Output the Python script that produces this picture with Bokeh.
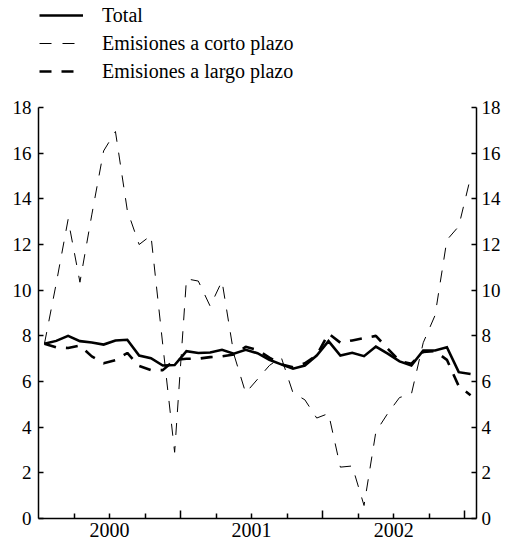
from bokeh.plotting import figure
from bokeh.models import Range1d, LinearAxis, FixedTicker, Legend, LegendItem, ColumnDataSource
from bokeh.embed import file_html
from bokeh.resources import INLINE

# ---- data (monthly, Jan 2000 .. Jan 2003) ----
periodos = [f"{2000 + i // 12}-{i % 12 + 1:02d}" for i in range(37)]
total = [7.65, 7.78, 8.0, 7.77, 7.71, 7.62, 7.8, 7.83, 7.14, 7.02, 6.7, 6.72,
         7.33, 7.25, 7.27, 7.39, 7.22, 7.39, 7.24, 6.95, 6.75, 6.56, 6.7, 7.14,
         7.77, 7.14, 7.26, 7.11, 7.53, 7.22, 6.88, 6.7, 7.36, 7.36, 7.5, 6.41,
         6.33]
corto = [7.65, 10.3, 13.1, 10.35, 13.3, 16.1, 16.95, 13.5, 12.0, 12.4, 7.6, 2.9,
         10.5, 10.4, 9.3, 10.4, 7.2, 5.5, 6.1, 6.7, 7.07, 5.5, 5.2, 4.4,
         4.6, 2.25, 2.3, 0.57, 3.8, 4.6, 5.3, 5.45, 7.7, 8.9, 12.2, 12.8,
         14.95]
largo = [7.65, 7.5, 7.47, 7.58, 7.1, 6.8, 6.93, 7.25, 6.68, 6.5, 6.5, 6.95,
         7.0, 7.0, 7.07, 7.1, 7.18, 7.52, 7.38, 7.05, 6.75, 6.62, 6.8, 7.15,
         8.1, 7.7, 7.8, 7.9, 8.0, 7.44, 6.9, 6.78, 7.3, 7.33, 6.95, 5.8,
         5.4]
anios = ["2000", "2001", "2002"]
nombres = ["Total", "Emisiones a corto plazo", "Emisiones a largo plazo"]
y_ticks = [0, 2, 4, 6, 8, 10, 12, 14, 16, 18]

# month index -> x (centre of month)
x = [i + 0.5 for i in range(len(periodos))]
src = ColumnDataSource(dict(x=x, total=total, corto=corto, largo=largo))

FONT = "Liberation Serif"
Y_END = 22.69

p = figure(width=506, height=539, output_backend="svg", toolbar_location=None,
           x_range=Range1d(0, len(periodos)), y_range=Range1d(0, Y_END),
           min_border_left=38, min_border_right=30, min_border_top=0,
           min_border_bottom=0)
p.outline_line_color = None
p.xgrid.visible = False
p.ygrid.visible = False
p.background_fill_color = "white"
p.border_fill_color = "white"

r_corto = p.line("x", "corto", source=src, line_color="black", line_width=1,
                 line_dash="12 11")
r_largo = p.line("x", "largo", source=src, line_color="black", line_width=2.6,
                 line_dash="12 10")
r_total = p.line("x", "total", source=src, line_color="black", line_width=2.6,
                 line_join="miter")

# bottom axis: quarter ticks, longer ticks at year boundaries, labels mid-year
xa = p.xaxis[0]
quarter = [q for q in range(3, len(periodos), 3) if q % 12 != 0]
years = [q for q in range(12, len(periodos), 12)]
xa.ticker = FixedTicker(ticks=quarter, minor_ticks=years)
overrides = {q: "" for q in quarter}
for k, a in enumerate(anios):
    overrides[6 + 12 * k] = a
xa.major_label_overrides = overrides
xa.major_tick_in = 5
xa.major_tick_out = 0
xa.minor_tick_in = 8
xa.minor_tick_out = 0
xa.axis_line_width = 1.5
xa.major_tick_line_width = 1.5
xa.minor_tick_line_width = 1.5
xa.major_label_standoff = 4
xa.major_label_text_font = FONT
xa.major_label_text_font_size = "20px"
xa.major_label_text_color = "black"


def style_y(ax, standoff):
    ax.ticker = FixedTicker(ticks=y_ticks)
    ax.bounds = (y_ticks[0], y_ticks[-1])
    ax.major_tick_in = 5
    ax.major_tick_out = 0
    ax.minor_tick_line_color = None
    ax.axis_line_width = 1.5
    ax.major_tick_line_width = 1.5
    ax.major_label_standoff = standoff
    ax.major_label_text_font = FONT
    ax.major_label_text_font_size = "19px"
    ax.major_label_text_color = "black"


style_y(p.yaxis[0], 7)
ry = LinearAxis()
style_y(ry, 5)
p.add_layout(ry, "right")

legend = Legend(items=[LegendItem(label=nombres[0], renderers=[r_total]),
                       LegendItem(label=nombres[1], renderers=[r_corto]),
                       LegendItem(label=nombres[2], renderers=[r_largo])],
                location="top_left", margin=1, padding=0, spacing=0,
                glyph_width=44, glyph_height=28, label_height=28,
                label_standoff=19, label_text_font=FONT,
                label_text_font_size="20px", label_text_color="black",
                background_fill_alpha=0, border_line_alpha=0)
p.add_layout(legend)

open("out.html", "w").write(file_html(p, INLINE))
